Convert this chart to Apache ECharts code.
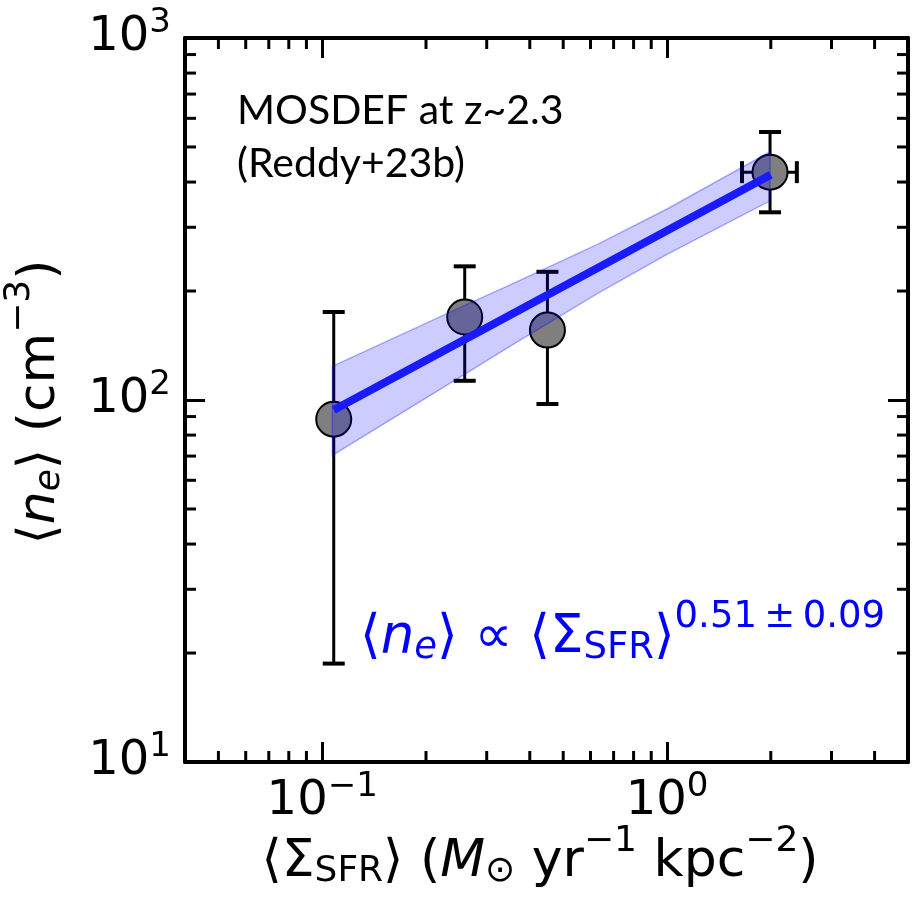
<!DOCTYPE html>
<html><head><meta charset="utf-8">
<script src="https://cdn.jsdelivr.net/npm/echarts@6/dist/echarts.min.js"></script>
<style>html,body{margin:0;padding:0;background:#fff;} #c{width:914px;height:909px;}</style>
</head><body><div id="c"></div>
<script>
// ---- data ----
const sigmaSFR = [0.108, 0.259, 0.450, 1.99];
const ne       = [88.5, 169.5, 156, 426];
const neLo     = [18.7, 113, 97.5, 330];
const neHi     = [175, 234, 226, 550];
const sigmaLo  = [null, null, null, 1.65];
const sigmaHi  = [null, null, null, 2.38];
const fitX = [0.108, 2.0];
const fitY = [93.8, 419];
const bandX     = [0.107, 0.26, 0.352, 0.628, 1.0, 1.99];
const bandUpper = [123.9, 182.8, 208.4, 269, 337, 485];
const bandLower = [70.3, 118, 141, 196.8, 252.5, 355];
const xMinorTicks = [0.05,0.06,0.07,0.08,0.09,0.2,0.3,0.4,0.5,0.6,0.7,0.8,0.9,2,3,4];
const yMinorTicks = [20,30,40,50,60,70,80,90,200,300,400,500,600,700,800,900];
const xRange = [0.04, 5];
const yRange = [10, 1000];

const FONT = '"DejaVu Sans"';
const chart = echarts.init(document.getElementById('c'), null, {renderer:'canvas'});

function tickFmt(v){
  const l = Math.log10(v), e = Math.round(l);
  if (Math.abs(l - e) > 1e-6) return '';
  return '{b|10}{s|' + (e < 0 ? '\u2212' + (-e) : e) + '}';
}
const tickRich = {
  b: {fontSize: 48, fontFamily: FONT, color: '#000'},
  s: {fontSize: 34, fontFamily: FONT, color: '#000', padding: [0,0,30,0]}
};
const lineStyleAxis = {color:'#000', width:4};
function mkX(pos, showLabel){
  return {type:'log', logBase:10, min:xRange[0], max:xRange[1], position:pos,
    axisLine:{show:true, onZero:false, lineStyle:lineStyleAxis},
    axisTick:{show:true, inside:true, length:20, lineStyle:{color:'#000', width:3}},
    axisLabel:{show:showLabel, formatter:tickFmt, rich:tickRich, margin:8},
    splitLine:{show:false}, minorTick:{show:false}};
}
function mkY(pos, showLabel){
  return {type:'log', logBase:10, min:yRange[0], max:yRange[1], position:pos,
    axisLine:{show:true, onZero:false, lineStyle:lineStyleAxis},
    axisTick:{show:true, inside:true, length:20, lineStyle:{color:'#000', width:3}},
    axisLabel:{show:showLabel, formatter:tickFmt, rich:tickRich, margin:14},
    splitLine:{show:false}, minorTick:{show:false}};
}

const MINOR = 11;
const minorX = {
  type:'custom', xAxisIndex:0, yAxisIndex:0, silent:true, clip:false, z:5,
  data: xMinorTicks.map(v => [v, yRange[0]]),
  renderItem: (p, api) => {
    const v = api.value(0);
    const b = api.coord([v, yRange[0]]), t = api.coord([v, yRange[1]]);
    const st = {stroke:'#000', lineWidth:3};
    return {type:'group', children:[
      {type:'line', shape:{x1:b[0], y1:b[1], x2:b[0], y2:b[1]-MINOR}, style:st},
      {type:'line', shape:{x1:t[0], y1:t[1], x2:t[0], y2:t[1]+MINOR}, style:st}
    ]};
  }
};
const minorY = {
  type:'custom', xAxisIndex:0, yAxisIndex:0, silent:true, clip:false, z:5,
  data: yMinorTicks.map(v => [xRange[0], v]),
  renderItem: (p, api) => {
    const v = api.value(1);
    const l = api.coord([xRange[0], v]), r = api.coord([xRange[1], v]);
    const st = {stroke:'#000', lineWidth:3};
    return {type:'group', children:[
      {type:'line', shape:{x1:l[0], y1:l[1], x2:l[0]+MINOR, y2:l[1]}, style:st},
      {type:'line', shape:{x1:r[0], y1:r[1], x2:r[0]-MINOR, y2:r[1]}, style:st}
    ]};
  }
};

const errData = sigmaSFR.map((x,i) => [x, ne[i], neLo[i], neHi[i],
  sigmaLo[i] == null ? x : sigmaLo[i], sigmaHi[i] == null ? x : sigmaHi[i]]);
const CAP = 11;
const errSeries = {
  type:'custom', xAxisIndex:0, yAxisIndex:0, z:2, silent:true,
  data: errData, encode:{x:0, y:[1,2,3]},
  renderItem: (p, api) => {
    const x = api.value(0), y = api.value(1);
    const lo = api.coord([x, api.value(2)]), hi = api.coord([x, api.value(3)]);
    const st = {stroke:'#000', lineWidth:3};
    const capSt = {stroke:'#000', lineWidth:4};
    const ch = [
      {type:'line', shape:{x1:lo[0], y1:lo[1], x2:hi[0], y2:hi[1]}, style:st},
      {type:'line', shape:{x1:lo[0]-CAP, y1:lo[1], x2:lo[0]+CAP, y2:lo[1]}, style:capSt},
      {type:'line', shape:{x1:hi[0]-CAP, y1:hi[1], x2:hi[0]+CAP, y2:hi[1]}, style:capSt}
    ];
    const xl = api.value(4), xh = api.value(5);
    if (xl !== xh) {
      const a = api.coord([xl, y]), b = api.coord([xh, y]);
      ch.push({type:'line', shape:{x1:a[0], y1:a[1], x2:b[0], y2:b[1]}, style:st});
      ch.push({type:'line', shape:{x1:a[0], y1:a[1]-CAP, x2:a[0], y2:a[1]+CAP}, style:capSt});
      ch.push({type:'line', shape:{x1:b[0], y1:b[1]-CAP, x2:b[0], y2:b[1]+CAP}, style:capSt});
    }
    return {type:'group', children:ch};
  }
};

const bandSeries = {
  type:'custom', xAxisIndex:0, yAxisIndex:0, z:4, silent:true,
  data: bandX.map((x,i) => [x, bandLower[i], bandUpper[i]]), encode:{x:0, y:[1,2]},
  renderItem: (p, api) => {
    if (p.dataIndex !== 0) return null;
    const pts = [];
    bandX.forEach((x,i) => pts.push(api.coord([x, bandUpper[i]])));
    for (let i = bandX.length-1; i >= 0; i--) pts.push(api.coord([bandX[i], bandLower[i]]));
    return {type:'polygon', shape:{points:pts},
      style:{fill:'rgba(0,0,255,0.2)', stroke:'rgba(0,0,255,0.3)', lineWidth:1.5}};
  }
};

const B = '#0000ff';
function tok(size, opts){ return Object.assign({fontSize:size, fontFamily:FONT}, opts); }
const fRich = {
  b:tok(53, {fill:B}),
  i:tok(53, {fill:B, fontStyle:'italic'}),
  subi:tok(37, {fill:B, fontStyle:'italic', padding:[20,0,0,0]}),
  sub:tok(37, {fill:B, padding:[20,0,0,0]}),
  sup:tok(37, {fill:B, padding:[0,0,42,0]})
};
const K = '#000';
const lRich = {
  b:tok(52, {fill:K}),
  i:tok(52, {fill:K, fontStyle:'italic'}),
  subi:tok(36, {fill:K, fontStyle:'italic', padding:[20,0,0,0]}),
  sub:tok(36, {fill:K, padding:[20,0,0,0]}),
  sup:tok(36, {fill:K, padding:[0,0,40,0]})
};

chart.setOption({
  animation:false,
  backgroundColor:'#fff',
  grid:{left:185, right:6, top:38, bottom:147, containLabel:false},
  xAxis:[mkX('bottom', true), mkX('top', false)],
  yAxis:[mkY('left', true), mkY('right', false)],
  series:[
    errSeries,
    {type:'scatter', xAxisIndex:0, yAxisIndex:0, z:3, symbol:'circle', symbolSize:35,
     data: sigmaSFR.map((x,i) => [x, ne[i]]),
     itemStyle:{color:'#7f7f7f', borderColor:'#000', borderWidth:2, opacity:1}},
    bandSeries,
    {type:'line', xAxisIndex:0, yAxisIndex:0, z:6, showSymbol:false, symbol:'none',
     data: fitX.map((x,i) => [x, fitY[i]]),
     lineStyle:{color:'#1a1aff', width:8, cap:'butt'}},
    minorX, minorY
  ],
  graphic:[
    {type:'text', left:237, top:90, style:{text:'MOSDEF at z~2.3', fontFamily:'Lato', fontSize:41, fill:'#000'}},
    {type:'text', left:237, top:143, style:{text:'(Reddy+23b)', fontFamily:'Lato', fontSize:41, fill:'#000'}},
    {type:'text', x:360, y:638, style:{
      text:'{b|\u27E8}{i|n}{subi|e}{b|\u27E9 \u221D \u27E8\u03A3}{sub|SFR}{b|\u27E9}{sup|0.51\u2009\u00B1\u20090.09}',
      rich:fRich, align:'left', verticalAlign:'middle'}},
    {type:'text', x:540, y:862, style:{
      text:'{b|\u27E8\u03A3}{sub|SFR}{b|\u27E9 (}{i|M}{sub|\u2299}{b| yr}{sup|\u22121}{b| kpc}{sup|\u22122}{b|)}',
      rich:lRich, align:'center', verticalAlign:'middle'}},
    {type:'text', x:40, y:402, rotation:Math.PI/2, style:{
      text:'{b|\u27E8}{i|n}{subi|e}{b|\u27E9 (cm}{sup|\u22123}{b|)}',
      rich:lRich, align:'center', verticalAlign:'middle'}}
  ]
});
</script></body></html>
